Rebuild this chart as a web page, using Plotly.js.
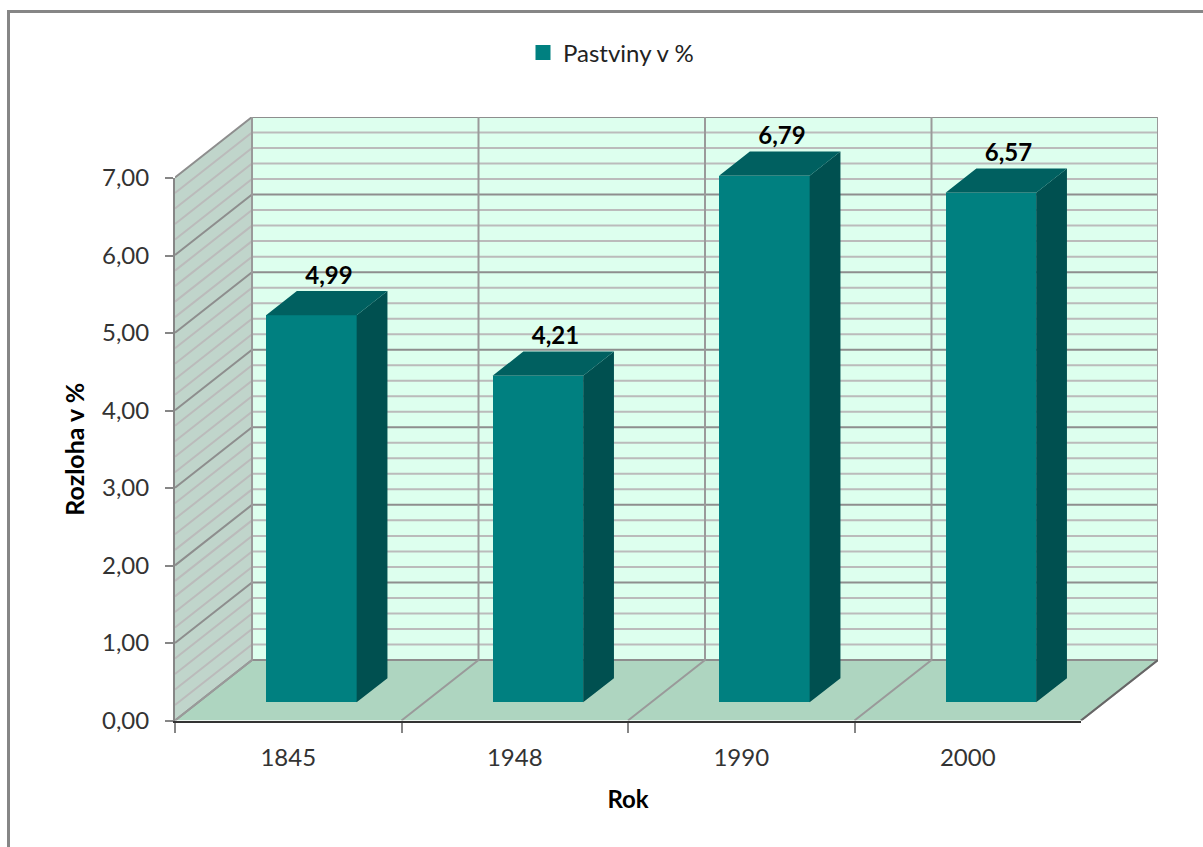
<!DOCTYPE html>
<html><head><meta charset="utf-8">
<script src="https://cdn.plot.ly/plotly-3.0.1.min.js"></script>
<style>html,body{margin:0;padding:0;background:#fff}</style></head>
<body><div id="chart" style="width:1203px;height:847px"></div>
<script>
const years = ['1845','1948','1990','2000'];
const pastviny = [4.99,4.21,6.79,6.57];
const labels = ['4,99','4,21','6,79','6,57'];
const yTicks = [0,1,2,3,4,5,6,7];
const FONT = 'Lato, Carlito, sans-serif';
// oblique projection of the depth axis, in axis units
const DX = 0.34, DY = 0.78, D0 = 0.3, D1 = 0.7, BW = 0.4, LABEL_UP = 0.17, LABEL_RIGHT = 0.01;
const W = 1203, H = 847;
const traces = [];
function line(xs, ys, color, width){
  traces.push({type:'scatter',mode:'lines',x:xs,y:ys,xaxis:'x',yaxis:'y',showlegend:false,hoverinfo:'skip',
    cliponaxis:false,line:{color:color,width:width}});
}
function poly(xs, ys, color, front){
  traces.push({type:'scatter',mode:'lines',x:xs,y:ys,xaxis:front?'x3':'x',yaxis:front?'y3':'y',fill:'toself',fillcolor:color,
    line:{width:0,color:color},showlegend:false,hoverinfo:'skip',cliponaxis:false});
}
// walls and floor
poly([DX,4+DX,4+DX,DX,DX],[DY,DY,7+DY,7+DY,DY],'#DDFFEE');
poly([0,DX,DX,0,0],[0,DY,7+DY,7,0],'#C0D5CB');
poly([0,4,4+DX,DX,0],[0,0,DY,DY,0],'#AED5C0');
// gridlines
for(let i=1;i<35;i++){
  if(i%5===0) continue;
  const v=i/5;
  line([0,DX,4+DX],[v,v+DY,v+DY],'#BBBBBB',2);
}
for(let v=0;v<=7;v++){
  line([0,DX,4+DX],[v,v+DY,v+DY],'#8E8E8E',2);
}
for(let c=0;c<=4;c++){
  line([c,c+DX,c+DX],[0,DY,7+DY],'#9A9A9A',2);
}
line([4,4+DX],[0,DY],'#666666',2);

// front-plane series: carries the category axis and the legend key, sits behind the bar fronts
traces.push({type:'scatter',mode:'markers',name:'Pastviny v %',x:years,y:pastviny,xaxis:'x2',yaxis:'y2',
  marker:{symbol:'square',size:15,color:'#008080'},hoverinfo:'skip',cliponaxis:false});

// front faces of the bars
traces.push({type:'bar',x:years.map((_,i)=>i+0.5+D0*DX),y:pastviny,base:D0*DY,width:BW,
  xaxis:'x3',yaxis:'y3',marker:{color:'#008080',line:{width:0}},hoverinfo:'skip',showlegend:false});

// side and top faces, plus the value labels
const sx=[],sy=[],tx=[],ty=[],lx=[],ly=[];
pastviny.forEach((v,i)=>{
  const a=i+0.5-BW/2, b=i+0.5+BW/2;
  const p=(c,val,d)=>[c+d*DX,val+d*DY];
  const f=[p(b,0,D0),p(b,0,D1),p(b,v,D1),p(b,v,D0),p(b,0,D0)];
  f.forEach(q=>{sx.push(q[0]);sy.push(q[1]);}); sx.push(null);sy.push(null);
  const g=[p(a,v,D0),p(b,v,D0),p(b,v,D1),p(a,v,D1),p(a,v,D0)];
  g.forEach(q=>{tx.push(q[0]);ty.push(q[1]);}); tx.push(null);ty.push(null);
  const l=p(i+0.5,v,0.5); lx.push(l[0]+LABEL_RIGHT); ly.push(l[1]+LABEL_UP);
});
poly(sx,sy,'#005050',true);
poly(tx,ty,'#006060',true);
traces.push({type:'scatter',mode:'text',x:lx,y:ly,text:labels,xaxis:'x3',yaxis:'y3',textposition:'top center',
  textfont:{family:FONT,size:24,color:'#000',weight:700},cliponaxis:false,showlegend:false,hoverinfo:'skip'});

const wallX=[175/W,1158/W], wallY=[(H-720.5)/H,(H-117)/H];
const layout={
  width:W,height:H,margin:{l:0,r:0,t:0,b:0},paper_bgcolor:'#fff',plot_bgcolor:'rgba(0,0,0,0)',
  bargap:0,separators:',.',showlegend:true,hovermode:false,
  font:{family:FONT,color:'#222'},
  legend:{x:523/W,y:1-53/H,xanchor:'left',yanchor:'middle',orientation:'h',bgcolor:'rgba(0,0,0,0)',font:{family:FONT,size:24,color:'#222'}},
  xaxis:{domain:wallX,range:[0,4+DX],visible:false,fixedrange:true,anchor:'y'},
  yaxis:{domain:wallY,range:[0,7+DY],visible:false,fixedrange:true,anchor:'x'},
  xaxis2:{domain:[175/W,1081/W],type:'category',categoryorder:'array',categoryarray:years,range:[-0.5,3.5],anchor:'y2',
    tickson:'boundaries',ticks:'outside',ticklen:10,tickwidth:2,tickcolor:'#868686',showline:true,linecolor:'#333',linewidth:2,
    ticklabelstandoff:15,showgrid:false,zeroline:false,tickfont:{family:FONT,size:24,color:'#333'},fixedrange:true,
    title:{text:'Rok',standoff:21,font:{family:FONT,size:24,color:'#000',weight:700}}},
  yaxis2:{domain:[(H-720.5)/H,(H-178)/H],range:[0,7],anchor:'x2',tickvals:yTicks,tickformat:'.2f',ticks:'outside',ticklen:8,tickwidth:2,tickcolor:'#868686',
    ticklabelstandoff:11,showline:true,linecolor:'#868686',linewidth:2,showgrid:false,zeroline:false,tickfont:{family:FONT,size:24,color:'#333'},fixedrange:true,
    title:{text:'Rozloha v %',standoff:10,font:{family:FONT,size:25,color:'#000',weight:700}}},
  xaxis3:{domain:wallX,range:[0,4+DX],visible:false,fixedrange:true,anchor:'y3'},
  yaxis3:{domain:wallY,range:[0,7+DY],visible:false,fixedrange:true,anchor:'x3'},
  shapes:[{type:'path',xref:'paper',yref:'paper',path:`M ${8.5/W} 0 L ${8.5/W} ${1-11.5/H} L 1 ${1-11.5/H}`,line:{color:'#868686',width:3}}]
};
Plotly.newPlot('chart',traces,layout,{displayModeBar:false,staticPlot:true});
</script></body></html>
